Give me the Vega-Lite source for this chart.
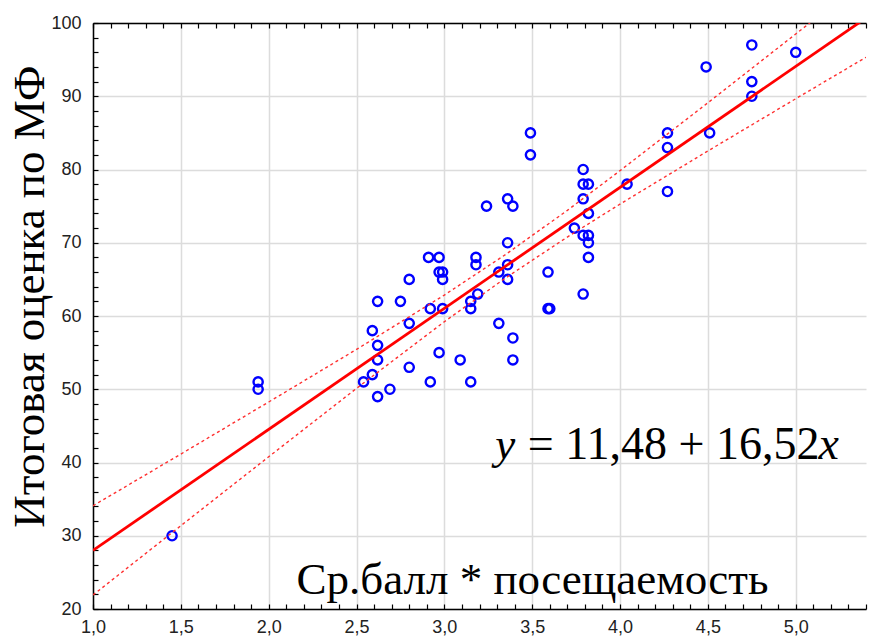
{
  "$schema": "https://vega.github.io/schema/vega-lite/v6.json",
  "width": 773,
  "height": 586,
  "autosize": {"type": "none"},
  "padding": {"left": 93, "top": 23, "right": 8, "bottom": 27},
  "background": "white",
  "config": {
    "view": {"stroke": null},
    "axis": {
      "domainColor": "#000000",
      "domainWidth": 1.5,
      "tickColor": "#000000",
      "tickWidth": 1.2,
      "gridColor": "#dcdcdc",
      "gridWidth": 1.5,
      "labelFont": "Liberation Sans",
      "labelFontSize": 18,
      "labelColor": "#222222",
      "labelOverlap": false,
      "labelFlush": false,
      "titleFont": "Liberation Serif",
      "titleFontSize": 45,
      "titleFontWeight": "normal",
      "titleColor": "#000000"
    }
  },
  "datasets": {
    "points": [
      {"x": 1.45, "y": 30}, {"x": 1.94, "y": 51}, {"x": 1.94, "y": 50}, {"x": 2.54, "y": 51},
      {"x": 2.59, "y": 52}, {"x": 2.59, "y": 58}, {"x": 2.62, "y": 62}, {"x": 2.62, "y": 56},
      {"x": 2.62, "y": 54}, {"x": 2.62, "y": 49}, {"x": 2.69, "y": 50}, {"x": 2.75, "y": 62},
      {"x": 2.80, "y": 65}, {"x": 2.80, "y": 59}, {"x": 2.80, "y": 53}, {"x": 2.91, "y": 68},
      {"x": 2.97, "y": 68}, {"x": 2.92, "y": 61}, {"x": 2.92, "y": 51}, {"x": 2.97, "y": 66},
      {"x": 2.99, "y": 66}, {"x": 2.99, "y": 65}, {"x": 2.99, "y": 61}, {"x": 2.97, "y": 55},
      {"x": 3.09, "y": 54}, {"x": 3.15, "y": 51}, {"x": 3.15, "y": 62}, {"x": 3.15, "y": 61},
      {"x": 3.18, "y": 68}, {"x": 3.18, "y": 67}, {"x": 3.19, "y": 63}, {"x": 3.24, "y": 75},
      {"x": 3.31, "y": 59}, {"x": 3.31, "y": 66}, {"x": 3.36, "y": 76}, {"x": 3.39, "y": 75},
      {"x": 3.36, "y": 70}, {"x": 3.36, "y": 67}, {"x": 3.36, "y": 65}, {"x": 3.39, "y": 57},
      {"x": 3.39, "y": 54}, {"x": 3.49, "y": 85}, {"x": 3.49, "y": 82}, {"x": 3.59, "y": 66},
      {"x": 3.59, "y": 61}, {"x": 3.60, "y": 61}, {"x": 3.74, "y": 72}, {"x": 3.79, "y": 80},
      {"x": 3.79, "y": 78}, {"x": 3.82, "y": 78}, {"x": 3.79, "y": 76}, {"x": 3.82, "y": 74},
      {"x": 3.79, "y": 71}, {"x": 3.82, "y": 71}, {"x": 3.82, "y": 70}, {"x": 3.82, "y": 68},
      {"x": 3.79, "y": 63}, {"x": 4.04, "y": 78}, {"x": 4.27, "y": 85}, {"x": 4.27, "y": 83},
      {"x": 4.27, "y": 77}, {"x": 4.49, "y": 94}, {"x": 4.51, "y": 85}, {"x": 4.75, "y": 97},
      {"x": 4.75, "y": 92}, {"x": 4.75, "y": 90}, {"x": 5.0, "y": 96}
    ],
    "band": [
      {"x": 1.0, "lo": 21.91, "hi": 34.09},
      {"x": 1.5, "lo": 31.37, "hi": 41.15},
      {"x": 2.0, "lo": 40.78, "hi": 48.26},
      {"x": 2.5, "lo": 50.12, "hi": 55.44},
      {"x": 3.0, "lo": 59.22, "hi": 62.86},
      {"x": 3.35, "lo": 65.22, "hi": 68.42},
      {"x": 3.7, "lo": 70.78, "hi": 74.42},
      {"x": 4.0, "lo": 75.28, "hi": 79.84},
      {"x": 4.5, "lo": 82.53, "hi": 89.11},
      {"x": 5.0, "lo": 89.66, "hi": 98.50},
      {"x": 5.4, "lo": 95.32, "hi": 106.06}
    ],
    "fit": [
      {"x": 1.0, "y": 28.0},
      {"x": 5.4, "y": 100.69}
    ],
    "one": [{"k": 1}]
  },
  "layer": [
    {
      "data": {"name": "points"},
      "mark": {"type": "point", "shape": "circle", "filled": false, "color": "#0000ff", "strokeWidth": 2.4, "size": 85, "opacity": 1},
      "encoding": {
        "x": {
          "field": "x", "type": "quantitative",
          "scale": {"domain": [1, 5.4], "nice": false, "zero": false},
          "axis": {
            "orient": "bottom",
            "values": [1, 1.1, 1.2, 1.3, 1.4, 1.5, 1.6, 1.7, 1.8, 1.9, 2, 2.1, 2.2, 2.3, 2.4, 2.5, 2.6, 2.7, 2.8, 2.9, 3, 3.1, 3.2, 3.3, 3.4, 3.5, 3.6, 3.7, 3.8, 3.9, 4, 4.1, 4.2, 4.3, 4.4, 4.5, 4.6, 4.7, 4.8, 4.9, 5, 5.1, 5.2, 5.3, 5.4],
            "labelExpr": "abs(datum.value*2-round(datum.value*2))<0.01 ? replace(format(datum.value, '.1f'), '.', ',') : ''",
            "labelOverlap": false,
            "grid": true,
            "gridOpacity": {"condition": {"test": "abs(datum.value*2-round(datum.value*2))<0.01", "value": 1}, "value": 0},
            "tickSize": -5,
            "labelPadding": 14,
            "title": "Ср.балл * посещаемость",
            "titleX": 439,
            "titleY": -16,
            "titleAlign": "center",
            "titleBaseline": "alphabetic",
            "titleAngle": 0
          }
        },
        "y": {
          "field": "y", "type": "quantitative",
          "scale": {"domain": [20, 100], "nice": false, "zero": false},
          "axis": {
            "orient": "left",
            "values": [20, 22, 24, 26, 28, 30, 32, 34, 36, 38, 40, 42, 44, 46, 48, 50, 52, 54, 56, 58, 60, 62, 64, 66, 68, 70, 72, 74, 76, 78, 80, 82, 84, 86, 88, 90, 92, 94, 96, 98, 100],
            "labelExpr": "datum.value % 10 == 0 ? datum.label : ''",
            "labelOverlap": false,
            "grid": true,
            "gridOpacity": {"condition": {"test": "datum.value % 10 == 0", "value": 1}, "value": 0},
            "tickSize": -5,
            "labelPadding": 17,
            "title": "Итоговая оценка по МФ",
            "titleAngle": 270,
            "titleX": -50,
            "titleY": 273,
            "titleAlign": "center",
            "titleBaseline": "alphabetic"
          }
        }
      }
    },
    {
      "data": {"name": "band"},
      "mark": {"type": "line", "color": "#ff3030", "strokeWidth": 1.4, "strokeDash": [3, 3], "clip": true},
      "encoding": {
        "x": {"field": "x", "type": "quantitative", "axis": null},
        "y": {"field": "lo", "type": "quantitative", "axis": null}
      }
    },
    {
      "data": {"name": "band"},
      "mark": {"type": "line", "color": "#ff3030", "strokeWidth": 1.4, "strokeDash": [3, 3], "clip": true},
      "encoding": {
        "x": {"field": "x", "type": "quantitative", "axis": null},
        "y": {"field": "hi", "type": "quantitative", "axis": null}
      }
    },
    {
      "data": {"name": "fit"},
      "mark": {"type": "line", "color": "#ff0000", "strokeWidth": 2.8, "clip": true},
      "encoding": {
        "x": {
          "field": "x", "type": "quantitative",
          "axis": {
            "orient": "top",
            "values": [1, 1.1, 1.2, 1.3, 1.4, 1.5, 1.6, 1.7, 1.8, 1.9, 2, 2.1, 2.2, 2.3, 2.4, 2.5, 2.6, 2.7, 2.8, 2.9, 3, 3.1, 3.2, 3.3, 3.4, 3.5, 3.6, 3.7, 3.8, 3.9, 4, 4.1, 4.2, 4.3, 4.4, 4.5, 4.6, 4.7, 4.8, 4.9, 5, 5.1, 5.2, 5.3, 5.4],
            "labels": false,
            "grid": false,
            "title": null,
            "domain": true,
            "ticks": true,
            "tickSize": -5
          }
        },
        "y": {"field": "y", "type": "quantitative", "axis": null}
      }
    },
    {
      "data": {"name": "one"},
      "mark": {"type": "text", "text": "y", "font": "Liberation Serif", "fontSize": 45, "fontStyle": "italic", "align": "left", "baseline": "alphabetic", "color": "#000000"},
      "encoding": {
        "x": {"datum": 3.29, "type": "quantitative", "axis": null},
        "y": {"datum": 40.49, "type": "quantitative", "axis": null}
      }
    },
    {
      "data": {"name": "one"},
      "mark": {"type": "text", "text": "= 11,48 + 16,52", "font": "Liberation Serif", "fontSize": 46, "align": "left", "baseline": "alphabetic", "color": "#000000"},
      "encoding": {
        "x": {"datum": 3.475, "type": "quantitative", "axis": null},
        "y": {"datum": 40.49, "type": "quantitative", "axis": null}
      }
    },
    {
      "data": {"name": "one"},
      "mark": {"type": "text", "text": "x", "font": "Liberation Serif", "fontSize": 46, "fontStyle": "italic", "align": "left", "baseline": "alphabetic", "color": "#000000"},
      "encoding": {
        "x": {"datum": 5.13, "type": "quantitative", "axis": null},
        "y": {"datum": 40.49, "type": "quantitative", "axis": null}
      }
    }
  ],
  "resolve": {"axis": {"x": "independent", "y": "independent"}}
}
